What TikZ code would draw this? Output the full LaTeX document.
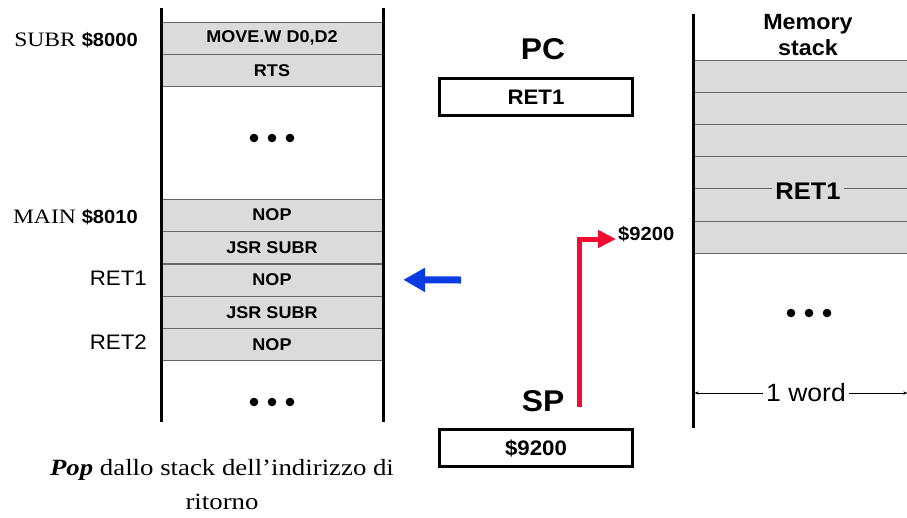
\documentclass[tikz,border=0pt]{standalone}
\usepackage{fontspec}
\setmainfont{Liberation Serif}[FakeStretch=1.15]
\setsansfont{Liberation Sans}[FakeStretch=1.06]
\usepackage{tikz}
\usetikzlibrary{arrows,arrows.meta,positioning}
\definecolor{cellgray}{gray}{0.86}
\definecolor{popblue}{RGB}{10,60,225}
\definecolor{spred}{RGB}{245,10,50}
\tikzset{
    %Define standard arrow tip
    >=stealth',
    font=\sffamily,
    %Define style for memory cells
    cella/.style={
           rectangle,
           fill=cellgray,
           draw=black!60, thin,
           minimum width=222pt,
           minimum height=32pt,
           inner sep=0pt,
           font=\sffamily\bfseries\fontsize{17}{20}\selectfont},
    cellastack/.style={cella, minimum width=216pt, minimum height=32.17pt},
    % Define style for registers
    registro/.style={
           rectangle,
           draw=black, line width=3.5pt,
           minimum width=193pt,
           minimum height=37pt,
           font=\sffamily\bfseries\fontsize{21}{24}\selectfont},
    titolo/.style={font=\sffamily\bfseries\fontsize{30}{34}\selectfont},
    etichetta/.style={anchor=east, inner sep=0pt, font=\rmfamily\fontsize{20.5}{24}\selectfont},
    etichettaret/.style={anchor=east, inner sep=0pt, font=\sffamily\fontsize{21}{24}\selectfont},
    parete/.style={line width=3pt},
    puntino/.style={fill=black},
    % Define arrow styles
    pop/.style={line width=7pt, draw=popblue, -{Triangle[length=22pt,width=23pt]}},
    punta/.style={line width=5pt, draw=spred, -{Triangle[length=18pt,width=17pt]}},
    misura/.style={->, thin, >=stealth'}
}

\begin{document}
\begin{tikzpicture}[x=1pt,y=-1pt]
  \useasboundingbox (0,0) rectangle (907,517);
  % program memory
  \node[cella] (c1) at (272,38) {MOVE.W D0,D2};
  \node[cella] (c2) [below=0pt of c1] {RTS};
  \node[cella] (c3) at (272,215) {NOP};
  \node[cella] (c4) [below=0pt of c3] {JSR SUBR};
  \node[cella] (c5) [below=0pt of c4] {NOP};
  \node[cella] (c6) [below=0pt of c5] {JSR SUBR};
  \node[cella] (c7) [below=0pt of c6] {NOP};
  \draw[parete] (161,8) -- (161,422);
  \draw[parete] (383,8) -- (383,422);
  \foreach \x in {-18,0,18} {
    \fill[puntino] (272+\x,138) circle (4.3);
    \fill[puntino] (272+\x,402) circle (4.3);
    \fill[puntino] (809+\x,313) circle (4.3);
  }
  \node[etichetta] (subr) at (138,40) {SUBR \textsf{\bfseries\fontsize{19}{24}\selectfont\$8000}};
  \node[etichetta] (main) at (138,217) {MAIN \textsf{\bfseries\fontsize{19}{24}\selectfont\$8010}};
  \node[etichettaret] (ret1) at (147,278) {RET1};
  \node[etichettaret] (ret2) at (147,342) {RET2};
  \node[font=\rmfamily\fontsize{23.3}{34}\selectfont, align=center] (caption) at (222,485)
    {\textbf{\textit{Pop}} dallo stack dell’indirizzo di\\ritorno};

  % registers
  \node[titolo] (pclabel) at (543,49) {PC};
  \node[registro] (pc) at (536,97) {RET1};
  \node[titolo] (splabel) at (543,401) {SP};
  \node[registro] (sp) at (536,448) {\$9200};
  \coordinate (popda) at (461,280);
  \draw[pop] (popda) -- ([xshift=20pt]c5.east);
  \coordinate (spfoot) at (579,407);
  \node[anchor=west, inner sep=2pt, font=\sffamily\bfseries\fontsize{19}{22}\selectfont] (addr) at (616,234) {\$9200};
  \draw[punta] (spfoot) |- ([yshift=-5pt]addr.west);

  % memory stack
  \foreach \i in {1,...,6}
    \node[cellastack] (s\i) at (801,{43.9+32.17*\i}) {};
  \node[fill=cellgray, inner sep=3pt, font=\sffamily\bfseries\fontsize{24}{26}\selectfont] (sret) at (808,191) {RET1};
  \draw[parete] (693,14) -- (693,428);
  \node[align=center, font=\sffamily\bfseries\fontsize{22}{26}\selectfont] (memlabel) at (808,35) {Memory\\stack};
  \node[inner sep=3pt, font=\sffamily\fontsize{25}{28}\selectfont] (word) at (806,393) {1 word};
  \coordinate (wl) at (695,393);
  \coordinate (wr) at (907,393);
  \draw[misura] (word.west) -- (wl);
  \draw[misura] (word.east) -- (wr);
\end{tikzpicture}
\end{document}
